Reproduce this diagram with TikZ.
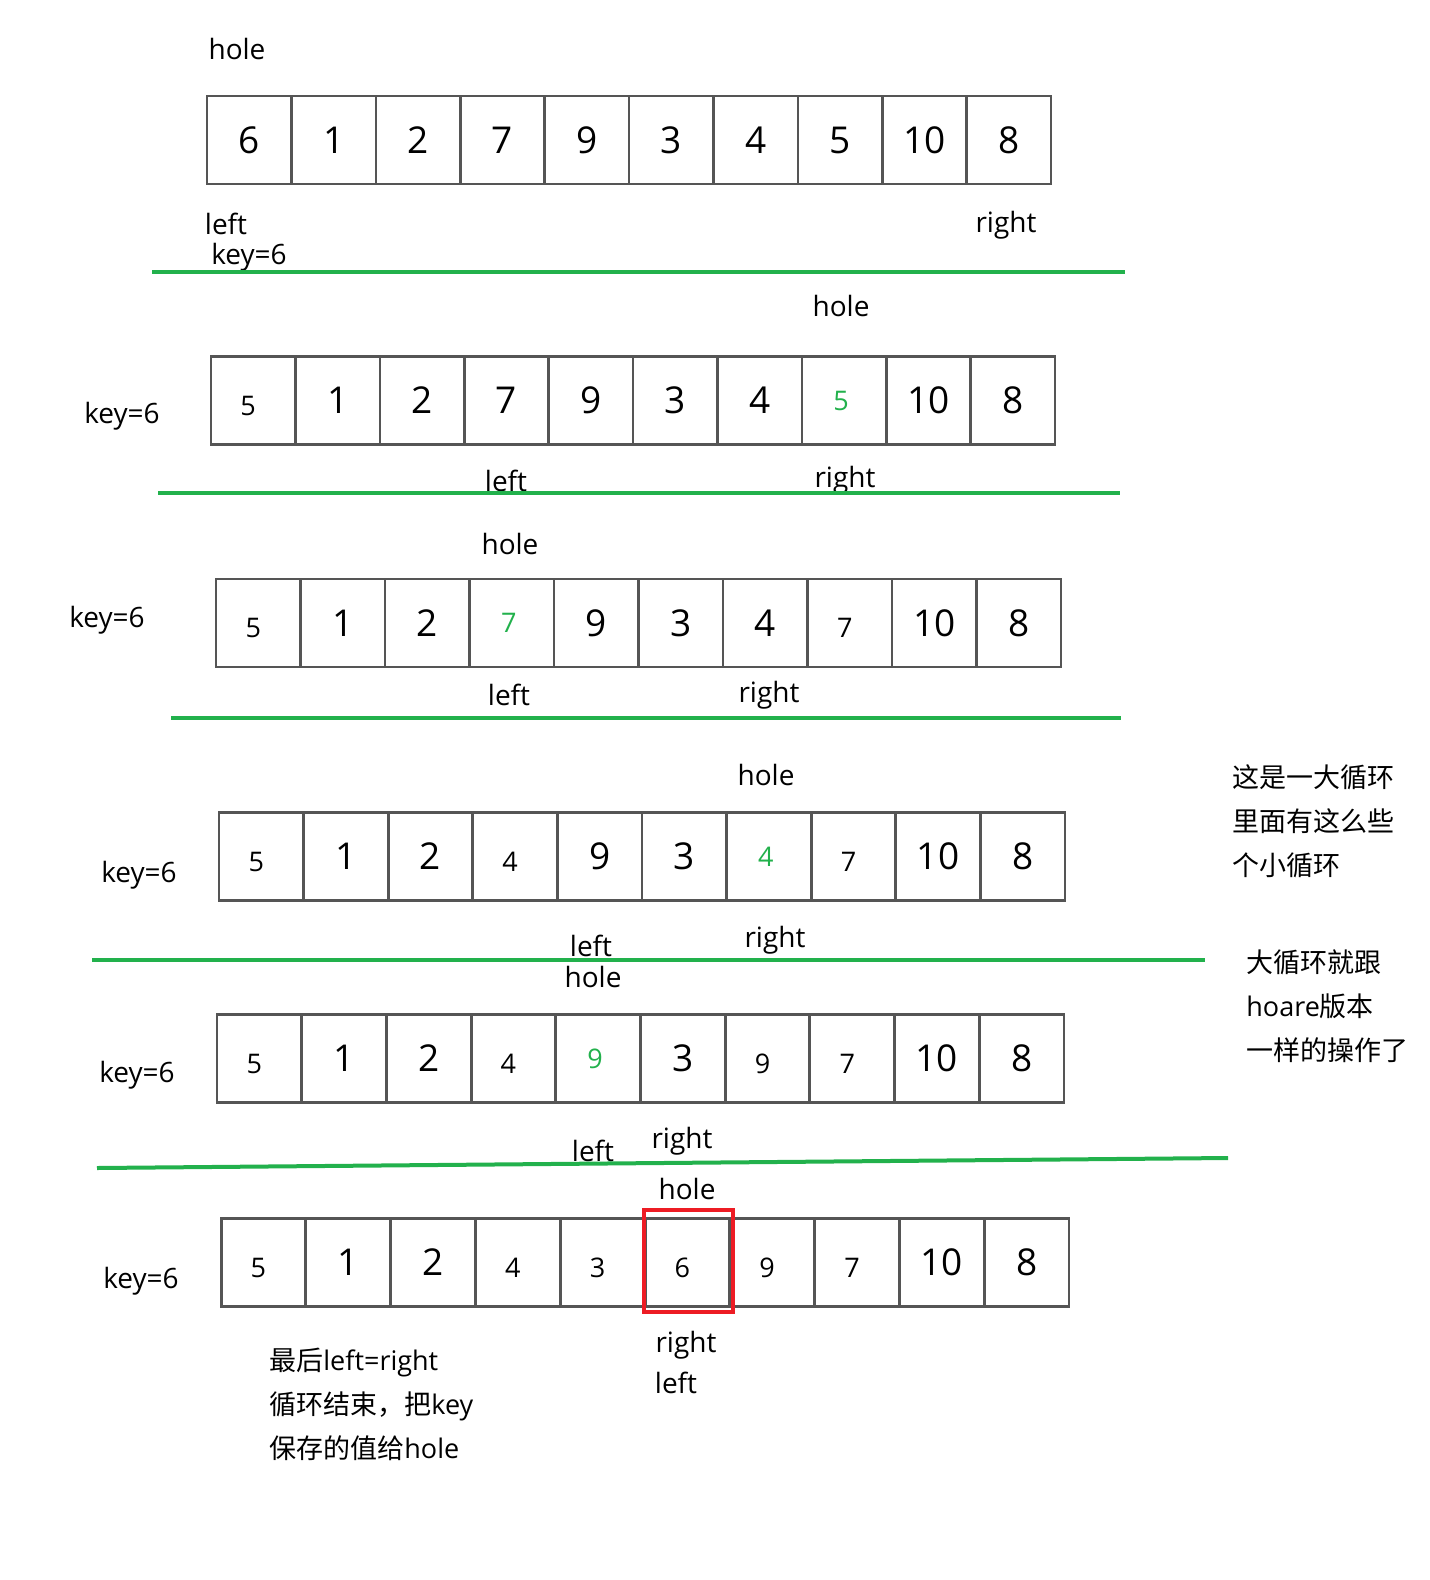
\documentclass[tikz,border=0pt]{standalone}
\usepackage{fontspec}
\setmainfont{Open Sans}
\newfontfamily\cjk{Noto Sans CJK SC}
\definecolor{sepgreen}{RGB}{34,177,76}
\definecolor{boxred}{RGB}{237,28,36}
\definecolor{cellline}{RGB}{85,85,85}
\newcommand\hw[1]{{\fontsize{18.5}{19}\selectfont #1}}
\newcommand\pr[1]{{\fontsize{13.5}{14}\selectfont\raisebox{-2.5pt}[\height][\depth]{\kern-2.5pt #1\kern2.5pt}}}
\newcommand\gr[1]{{\fontsize{13.5}{14}\selectfont\color{sepgreen}\kern-1.5pt #1\kern1.5pt}}
\begin{document}
\begin{tikzpicture}[x=0.5pt,y=-0.5pt,
  cell/.style={draw=cellline,line width=1.3pt,minimum width=42.2pt,minimum height=44pt,inner sep=0pt,anchor=center},
  lbl/.style={font=\fontsize{14}{16}\selectfont,inner sep=1pt},
  note/.style={font=\fontsize{13.5}{22}\selectfont,align=left,anchor=north west,inner sep=0pt},
  sep/.style={draw=sepgreen,line width=2pt}]
\useasboundingbox (0,0) rectangle (1430,1580);
\fill[white] (0,0) rectangle (1430,1580);

% row 1
\foreach \v [count=\k] in {\hw{6},\hw{1},\hw{2},\hw{7},\hw{9},\hw{3},\hw{4},\hw{5},\hw{10},\hw{8}}
  \node[cell] (ra\k) at ({207+(\k-0.5)*84.4},140) {\v};
% row 2
\foreach \v [count=\k] in {\pr{5},\hw{1},\hw{2},\hw{7},\hw{9},\hw{3},\hw{4},\gr{5},\hw{10},\hw{8}}
  \node[cell] (rb\k) at ({211+(\k-0.5)*84.4},400.5) {\v};
% row 3
\foreach \v [count=\k] in {\pr{5},\hw{1},\hw{2},\gr{7},\hw{9},\hw{3},\hw{4},\pr{7},\hw{10},\hw{8}}
  \node[cell] (rc\k) at ({216+(\k-0.5)*84.5},623) {\v};
% row 4
\foreach \v [count=\k] in {\pr{5},\hw{1},\hw{2},\pr{4},\hw{9},\hw{3},\gr{4},\pr{7},\hw{10},\hw{8}}
  \node[cell] (rd\k) at ({219+(\k-0.5)*84.6},856.5) {\v};
% row 5
\foreach \v [count=\k] in {\pr{5},\hw{1},\hw{2},\pr{4},\gr{9},\hw{3},\pr{9},\pr{7},\hw{10},\hw{8}}
  \node[cell] (re\k) at ({217+(\k-0.5)*84.7},1058.5) {\v};
% row 6
\foreach \v [count=\k] in {\pr{5},\hw{1},\hw{2},\pr{4},\pr{3},\pr{6},\pr{9},\pr{7},\hw{10},\hw{8}}
  \node[cell] (rf\k) at ({221+(\k-0.5)*84.8},1262.5) {\v};

\node[draw=boxred,line width=2pt,minimum width=44.5pt,minimum height=51pt,inner sep=0pt] (redbox) at (688.5,1261) {};

% labels row 1
\node[lbl] (h1) at (237,49) {hole};
\node[lbl] (l1) at (226,224) {left};
\node[lbl] (k1) at (249,257) {key=6};
\node[lbl] (g1) at (1006,225) {right};
% row 2
\node[lbl] (h2) at (841,306) {hole};
\node[lbl] (k2) at (122,416) {key=6};
\node[lbl] (l2) at (506,481) {left};
\node[lbl] (g2) at (845,480) {right};
% row 3
\node[lbl] (h3) at (510,544) {hole};
\node[lbl] (k3) at (107,620) {key=6};
\node[lbl] (l3) at (509,695) {left};
\node[lbl] (g3) at (769,695) {right};
% row 4
\node[lbl] (h4) at (766,775) {hole};
\node[lbl] (k4) at (139,875) {key=6};
\node[lbl] (l4) at (591,946) {left};
\node[lbl] (g4) at (775,940) {right};
% row 5
\node[lbl] (h5) at (593,977) {hole};
\node[lbl] (k5) at (137,1075) {key=6};
\node[lbl] (l5) at (593,1151) {left};
\node[lbl] (g5) at (682,1141) {right};
% row 6
\node[lbl] (h6) at (687,1189) {hole};
\node[lbl] (k6) at (141,1281) {key=6};
\node[lbl] (g6) at (686,1345) {right};
\node[lbl] (l6) at (676,1383) {left};

% separators
\draw[sep] (152,272) -- (1125,272);
\draw[sep] (158,493) -- (1120,493);
\draw[sep] (171,718) -- (1121,718);
\draw[sep] (92,960) -- (1205,960);
\draw[sep] (97,1168) -- (1228,1158);

% notes
\node[note] (n1) at (1232,764) {{\cjk 这是一大循环}\\{\cjk 里面有这么些}\\{\cjk 个小循环}};
\node[note] (n2) at (1246,949) {{\cjk 大循环就跟}\\hoare{\cjk 版本}\\{\cjk 一样的操作了}};
\node[note] (n3) at (269,1348) {{\cjk 最后}left=right\\{\cjk 循环结束，把}key\\{\cjk 保存的值给}hole};
\end{tikzpicture}
\end{document}
